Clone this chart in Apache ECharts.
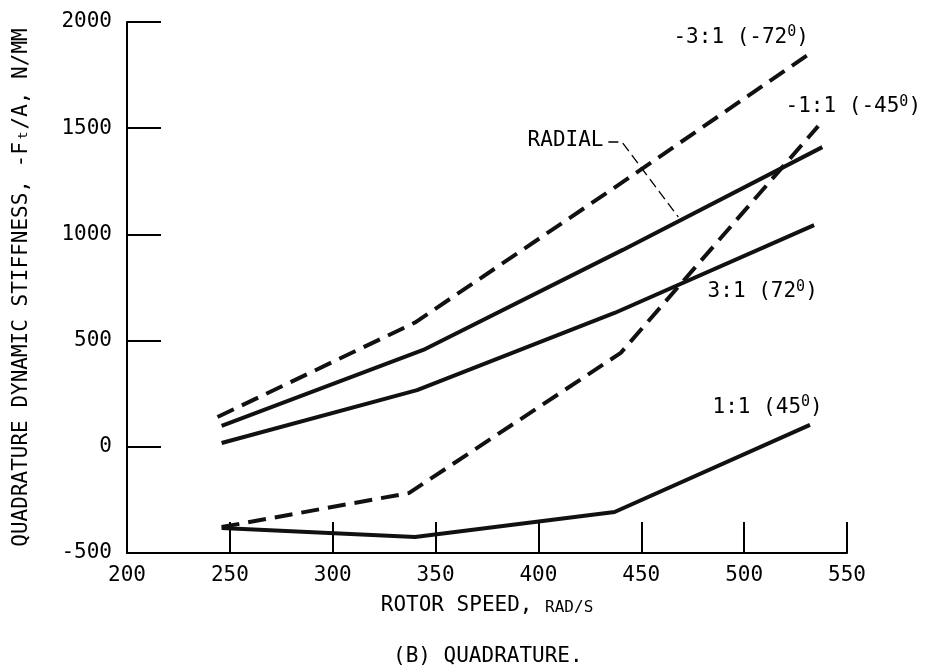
<!DOCTYPE html>
<html>
<head>
<meta charset="utf-8">
<script src="https://cdn.jsdelivr.net/npm/echarts@6/dist/echarts.min.js"></script>
<style>
  html, body { margin: 0; padding: 0; background: #fff; }
  #chart { width: 929px; height: 671px; }
</style>
</head>
<body>
<div id="chart"></div>
<script>
// rotor speed (rad/s) and quadrature stiffness (N/mm) for each whirl ratio
const speedNeg31 = [244, 340, 440, 533]
const stiffNeg31 = [140, 585, 1240, 1859]

const speedNeg11 = [246, 337, 440, 536]
const stiffNeg11 = [-378, -218, 442, 1510]

const speedRadial = [246, 344, 441, 538]
const stiffRadial = [98, 456, 927, 1411]

const speed31 = [246, 341, 437, 534]
const stiff31 = [18, 267, 630, 1044]

const speed11 = [246, 340, 437, 532]
const stiff11 = [-382, -425, -307, 103]

// leader from the RADIAL label to its curve
const leaderX = [434, 440.6, 468]
const leaderY = [1435, 1435, 1082]

// curve labels (left edge, middle); {s|0} is the raised degree mark
const labelText = ['-3:1 (-72{s|0})', '-1:1 (-45{s|0})', 'RADIAL', '3:1 (72{s|0})', '1:1 (45{s|0})']
const labelX = [465.4, 519.9, 394.5, 482, 484.4]
const labelY = [1929, 1600, 1440, 729, 187]

const xTicks = { min: 200, max: 550, interval: 50 }
const yTicks = { min: -500, max: 2000, interval: 500 }

const font = '"DejaVu Sans Mono", "Liberation Mono", monospace'
const ink = '#000'

const zip = (xs, ys) => xs.map((x, i) => [x, ys[i]])

const curve = (name, xs, ys, dashed) => ({
  name,
  type: 'line',
  data: zip(xs, ys),
  symbol: 'none',
  smooth: false,
  lineStyle: {
    width: 4,
    color: '#111',
    type: dashed ? [18, 9] : 'solid',
    cap: 'butt'
  },
  z: 3
})

const chart = echarts.init(document.getElementById('chart'))

const option = {
  animation: false,
  backgroundColor: '#fff',
  title: {
    text: '(B) QUADRATURE.',
    left: 388,
    top: 641,
    textStyle: { fontFamily: font, fontSize: 21, fontWeight: 'normal', color: ink }
  },
  grid: { left: 127, right: 82, top: 22, bottom: 118 },
  xAxis: {
    type: 'value',
    min: xTicks.min,
    max: xTicks.max,
    interval: xTicks.interval,
    name: '{a|ROTOR SPEED, }{b|RAD/S}',
    nameLocation: 'middle',
    nameGap: 42,
    nameTextStyle: {
      rich: {
        a: { fontFamily: font, fontSize: 21, color: ink },
        b: { fontFamily: font, fontSize: 16, color: ink, verticalAlign: 'bottom' }
      }
    },
    axisLine: { show: true, onZero: false, lineStyle: { color: ink, width: 2 } },
    axisTick: { show: true, inside: true, length: 31, lineStyle: { color: ink, width: 2 } },
    axisLabel: { fontFamily: font, fontSize: 21, color: ink, margin: 12 },
    splitLine: { show: false }
  },
  yAxis: {
    type: 'value',
    min: yTicks.min,
    max: yTicks.max,
    interval: yTicks.interval,
    name: 'QUADRATURE DYNAMIC STIFFNESS, -Fₜ/A, N/MM',
    nameLocation: 'middle',
    nameRotate: 90,
    nameGap: 95,
    nameTextStyle: { fontFamily: font, fontSize: 21, color: ink },
    axisLine: { show: true, onZero: false, lineStyle: { color: ink, width: 2 } },
    axisTick: { show: true, inside: true, length: 34, lineStyle: { color: ink, width: 2 } },
    axisLabel: { fontFamily: font, fontSize: 21, color: ink, margin: 15, formatter: v => String(v) },
    splitLine: { show: false }
  },
  series: [
    curve('-3:1 (-72°)', speedNeg31, stiffNeg31, true),
    curve('-1:1 (-45°)', speedNeg11, stiffNeg11, true),
    curve('RADIAL', speedRadial, stiffRadial, false),
    curve('3:1 (72°)', speed31, stiff31, false),
    curve('1:1 (45°)', speed11, stiff11, false),
    {
      name: 'leader',
      type: 'line',
      data: zip(leaderX, leaderY),
      symbol: 'none',
      lineStyle: { width: 1.3, color: ink, type: [10, 5] },
      z: 2
    },
    {
      name: 'labels',
      type: 'scatter',
      symbolSize: 1,
      itemStyle: { color: 'rgba(0,0,0,0)', opacity: 1 },
      data: labelText.map((t, i) => ({ name: t, value: [labelX[i], labelY[i]] })),
      label: {
        show: true,
        position: 'right',
        distance: 0,
        formatter: p => p.name,
        fontFamily: font,
        fontSize: 21,
        lineHeight: 24,
        color: ink,
        opacity: 1,
        rich: {
          s: { fontFamily: font, fontSize: 15, color: ink, verticalAlign: 'top', lineHeight: 12 }
        }
      },
      emphasis: { disabled: true },
      z: 4
    }
  ]
}

chart.setOption(option)
</script>
</body>
</html>
